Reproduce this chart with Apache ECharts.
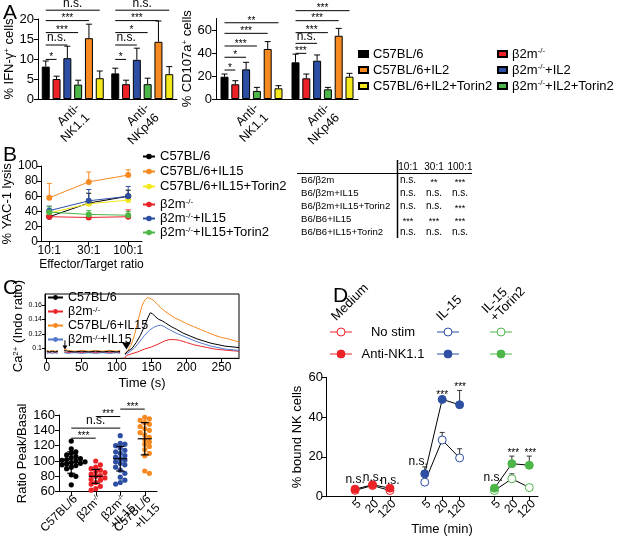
<!DOCTYPE html>
<html>
<head>
<meta charset="utf-8">
<script src="https://cdn.jsdelivr.net/npm/echarts@6/dist/echarts.min.js"></script>
<style>
  html, body { margin: 0; padding: 0; background: #fff; }
  #chart { width: 617px; height: 549px; }
</style>
</head>
<body>
<div id="chart"></div>
<script>
const FONT = '"Liberation Sans", Arial, Helvetica, sans-serif';

// ---------- Panel A: bar charts ----------
const aGroups = ['Anti-\nNK1.1', 'Anti-\nNKp46'];
const aNames = ['C57BL/6', 'β2m^{-/-}', 'β2m^{-/-}+IL2', 'β2m^{-/-}+IL2+Torin2', 'C57BL/6+IL2', 'C57BL/6+IL2+Torin2'];
const aColors = ['#000000', '#ec2227', '#2d4fa3', '#4cb748', '#f6891f', '#f2e81c'];
const ifnMean = [[8.1, 6.4], [5.0, 3.7], [10.2, 9.8], [3.6, 3.7], [15.2, 14.3], [5.2, 6.2]];
const ifnErr  = [[1.4, 1.3], [0.7, 1.0], [3.0, 2.9], [1.1, 1.5], [3.5, 5.2], [1.8, 1.9]];
const cdMean  = [[19.4, 31.9], [12.8, 18.0], [25.8, 33.3], [7.0, 8.4], [43.5, 55.0], [9.3, 19.4]];
const cdErr   = [[2.3, 7.1], [3.1, 3.7], [6.1, 5.0], [3.1, 1.7], [6.4, 6.4], [2.3, 2.9]];
// significance lines: [group, level, fromBar, toBar]
const ifnSig = [[0, 22.2, 0, 5], [0, 19.6, 0, 4], [0, 16.6, 0, 3], [0, 13.5, 0, 2], [0, 9.9, 0, 1],
                [1, 22.2, 0, 5], [1, 19.6, 0, 4], [1, 16.6, 0, 3], [1, 13.5, 0, 2], [1, 9.9, 0, 1]];
const ifnSigText = ['n.s.', '***', '***', 'n.s.', '*', 'n.s.', '***', '*', 'n.s.', '*'];
const cdSig = [[0, 66.3, 0, 5], [0, 57.1, 0, 4], [0, 46.1, 0, 3], [0, 36.3, 0, 2], [0, 25.2, 0, 1],
               [1, 76.8, 0, 5], [1, 68.1, 0, 4], [1, 57.7, 0, 3], [1, 48.4, 0, 2], [1, 39.7, 0, 1]];
const cdSigText = ['**', '***', '***', '*', '*', '***', '***', '***', 'n.s.', '***'];

// ---------- Panel B: lysis ----------
const bRatios = ['10:1', '30:1', '100:1'];
const bNames = ['C57BL/6', 'C57BL/6+IL15', 'C57BL/6+IL15+Torin2', 'β2m^{-/-}', 'β2m^{-/-}+IL15', 'β2m^{-/-}+IL15+Torin2'];
const bColors = ['#000000', '#f6891f', '#f2e81c', '#ec2227', '#2d4fa3', '#4cb748'];
const bLysis = [[33, 51, 60], [58, 79, 88], [38, 50, 55], [33, 32, 33], [41, 54, 60], [39, 36, 35]];
const bErr   = [[2, 13, 8], [19, 13, 7], [2, 3, 3], [2, 5, 9], [6, 15, 13], [7, 5, 5]];
const tableCols = ['10:1', '30:1', '100:1'];
const tableRows = ['B6/β2m', 'B6/β2m+IL15', 'B6/β2m+IL15+Torin2', 'B6/B6+IL15', 'B6/B6+IL15+Torin2'];
const tableSig = [['n.s.', '**', '***'], ['n.s.', 'n.s.', 'n.s.'], ['n.s.', 'n.s.', '***'],
                  ['***', '***', '***'], ['n.s.', 'n.s.', 'n.s.']];

// ---------- Panel C: calcium ----------
const cTraceNames = ['C57BL/6', 'β2m^{-/-}', 'C57BL/6+IL15', 'β2m^{-/-}+IL15'];
const cTraceColors = ['#000000', '#e8262c', '#f6891f', '#5479cc'];
const caBlack = [[0,0.096],[4,0.095],[8,0.096],[12,0.095],[16,0.096],[20,null],[25,0.097],[27,0.099],[30,0.096],[40,0.095],[50,0.096],[60,0.095],[70,0.096],[80,0.095],[90,0.096],[100,0.095],[105,0.096],[108,null],[112,0.092],[116,0.096],[122,0.100],[128,0.108],[134,0.118],[140,0.131],[145,0.143],[148,0.149],[151,0.148],[155,0.144],[160,0.140],[165,0.138],[170,0.135],[178,0.130],[186,0.126],[195,0.121],[205,0.117],[215,0.113],[225,0.110],[235,0.107],[245,0.105],[255,0.103],[265,0.102],[275,0.101]];
const caRed = [[0,0.095],[4,0.094],[8,0.095],[12,0.094],[16,0.095],[20,null],[25,0.095],[30,0.094],[40,0.095],[50,0.094],[60,0.095],[70,0.094],[80,0.095],[90,0.094],[100,0.095],[105,0.094],[108,null],[111,0.086],[114,0.090],[120,0.092],[130,0.095],[140,0.099],[150,0.102],[160,0.106],[168,0.110],[175,0.112],[183,0.112],[190,0.111],[200,0.108],[210,0.105],[220,0.103],[230,0.101],[240,0.099],[250,0.098],[260,0.097],[275,0.096]];
const caOrange = [[0,0.097],[4,0.096],[8,0.097],[12,0.096],[16,0.097],[20,null],[25,0.097],[27,0.100],[30,0.097],[40,0.096],[50,0.097],[60,0.096],[70,0.097],[80,0.096],[90,0.097],[100,0.096],[105,0.097],[108,null],[112,0.093],[116,0.097],[121,0.105],[126,0.120],[131,0.140],[136,0.158],[140,0.166],[144,0.170],[148,0.169],[153,0.166],[158,0.161],[163,0.156],[168,0.152],[175,0.147],[183,0.142],[190,0.139],[200,0.134],[210,0.130],[220,0.126],[230,0.122],[240,0.118],[250,0.115],[260,0.113],[270,0.110],[275,0.109]];
const caBlue = [[0,0.093],[4,0.094],[8,0.093],[12,0.094],[16,0.093],[20,null],[25,0.094],[30,0.093],[40,0.094],[50,0.093],[60,0.094],[70,0.093],[80,0.094],[90,0.093],[100,0.094],[105,0.093],[108,null],[112,0.091],[118,0.095],[125,0.100],[132,0.108],[140,0.118],[147,0.125],[153,0.129],[158,0.131],[163,0.132],[168,0.130],[175,0.126],[185,0.121],[195,0.117],[205,0.113],[215,0.109],[225,0.106],[235,0.103],[245,0.101],[255,0.099],[265,0.098],[275,0.097]];
const caArrows = [[26, 0.0985], [114, 0.0985]];
const cTimeTicks = [0, 50, 100, 150, 200, 250];
const cRatioTicks = [0.1, 0.12, 0.14, 0.16];

const cGroups = ['C57BL/6', 'β2m^{-/-}', 'β2m^{-/-}\n+IL15', 'C57BL/6\n+IL15'];
const cDotColors = ['#000000', '#ec2227', '#2d4fa3', '#f6891f'];
const ratioB6 = [126, 116, 112, 110, 108, 106, 104, 103, 102, 101, 100, 99, 98, 97, 96, 95, 94, 92, 90, 82, 80, 69];
const ratioB2m = [100, 95, 92, 90, 88, 86, 85, 83, 81, 80, 78, 76, 75, 72, 70, 67, 64, 62];
const ratioB2mIL15 = [133, 123, 122, 120, 117, 114, 112, 110, 107, 105, 103, 101, 99, 97, 95, 92, 88, 84, 79, 75, 72, 70];
const ratioB6IL15 = [157, 155, 153, 150, 148, 145, 142, 140, 137, 134, 131, 128, 125, 122, 119, 115, 110, 107, 87, 84];
const ratioMean = [98, 80, 103, 129];
const ratioSd = [14, 9, 16, 21];
const ratioSig = [[0, 1, 129.8], [0, 2, 142.9], [1, 2, 158], [2, 3, 167.7]];
const ratioSigText = ['***', 'n.s.', '***', '***'];

// ---------- Panel D: binding ----------
const dTimes = ['5', '20', '120'];
const dConds = ['Medium', 'IL-15', 'IL-15\n+Torin2'];
const dStim = ['No stim', 'Anti-NK1.1'];
const dColors = ['#ec2227', '#2d4fa3', '#4cb748'];
const dNoStim = [[3.2, 5.6, 3.1], [7.3, 28.5, 19.5], [3.1, 9.0, 4.6]];
const dAnti   = [[3.8, 6.0, 4.3], [11.5, 48.9, 46.2], [4.3, 16.6, 15.8]];
const dNoStimErr = [[0, 0, 0], [0, 3.8, 4.6], [0, 2.5, 0]];
const dAntiErr   = [[0, 0, 0], [3.5, 0, 7.2], [0, 3.8, 4.6]];
// significance labels: [x slot, level]
const dSig = [[0, 8.5], [1, 9.5], [2, 8.1], [3.62, 17.8], [5, 52.2], [6.03, 56], [7.93, 9.4], [9.08, 22.6], [10.06, 22.6]];
const dSigText = ['n.s.', 'n.s.', 'n.s.', 'n.s.', '***', '***', 'n.s.', '***', '***'];

// ---------- helpers ----------
const sup = s => s.replace(/\^\{([^}]*)\}/g, '{s|$1}');
const richSup = fs => ({ s: { fontSize: Math.round(fs * 0.6), fontFamily: FONT, color: '#000', verticalAlign: 'top', lineHeight: Math.round(fs * 0.5) } });

function axis(o) {
  return {
    ...o,
    axisLine: { show: true, onZero: false, lineStyle: { color: '#000', width: 1 }, ...(o.axisLine || {}) },
    axisTick: { show: true, length: 4, lineStyle: { color: '#000', width: 1 }, ...(o.axisTick || {}) },
    axisLabel: { color: '#000', fontFamily: FONT, fontSize: 13, margin: 4, ...(o.axisLabel || {}) },
    splitLine: { show: false },
    nameTextStyle: { color: '#000', fontFamily: FONT, fontSize: 13, ...(o.nameTextStyle || {}) }
  };
}

const BAR_STEP = 10.8;
function barErrRender(params, api) {
  const g = api.value(0), v = api.value(1), e = api.value(2), k = api.value(3);
  const p0 = api.coord([g, v]), p1 = api.coord([g, v + e]);
  const x = p0[0] + (k - 2.5) * BAR_STEP;
  return { type: 'group', children: [
    { type: 'line', shape: { x1: x, y1: p0[1], x2: x, y2: p1[1] }, style: { stroke: '#000', lineWidth: 1 } },
    { type: 'line', shape: { x1: x - 3, y1: p1[1], x2: x + 3, y2: p1[1] }, style: { stroke: '#000', lineWidth: 1 } }
  ] };
}
function sigText(txt, x, y) {
  const star = txt.charAt(0) === '*';
  return { type: 'text', style: { text: txt, x: x, y: star ? y + 3 : y - 1, align: 'center', verticalAlign: 'bottom',
    fontSize: star ? 10 : 12, fontFamily: FONT, fill: '#000' } };
}
function barSigRender(labels) {
  return function (params, api) {
    const g = api.value(0), lv = api.value(1), a = api.value(2), b = api.value(3);
    const p = api.coord([g, lv]);
    const x1 = p[0] + (a - 2.5) * BAR_STEP, x2 = p[0] + (b - 2.5) * BAR_STEP;
    return { type: 'group', children: [
      { type: 'line', shape: { x1: x1, y1: p[1], x2: x2, y2: p[1] }, style: { stroke: '#000', lineWidth: 1 } },
      sigText(labels[params.dataIndex], (x1 + x2) / 2, p[1])
    ] };
  };
}
function barErrData(mean, err) {
  const d = [];
  mean.forEach((row, k) => row.forEach((v, g) => d.push([g, v, err[k][g], k])));
  return d;
}

// simple beeswarm offsets (in dot widths) for the dot plot
const DOT_UNITS = 5.5;
function swarm(values, g) {
  const placed = [];
  return values.map(v => {
    const tries = [0, 1, -1, 2, -2, 3, -3];
    let off = 0;
    for (const t of tries) {
      if (!placed.some(p => p.o === t && Math.abs(p.v - v) < DOT_UNITS)) { off = t; break; }
    }
    placed.push({ v: v, o: off });
    return [g, v, off];
  });
}
const ratioGroups = [ratioB6, ratioB2m, ratioB2mIL15, ratioB6IL15];
const swarmData = [].concat(...ratioGroups.map((vals, g) => swarm(vals, g)));

// ---------- series ----------
const series = [];
aNames.forEach((n, k) => {
  series.push({ type: 'bar', name: 'a' + k, xAxisIndex: 0, yAxisIndex: 0, data: aGroups.map((_, g) => ifnMean[k][g]),
    barWidth: 8, barGap: '35%', itemStyle: { color: aColors[k], borderColor: '#000', borderWidth: 1 }, silent: true });
});
aNames.forEach((n, k) => {
  series.push({ type: 'bar', name: 'a' + k, xAxisIndex: 1, yAxisIndex: 1, data: aGroups.map((_, g) => cdMean[k][g]),
    barWidth: 8, barGap: '35%', itemStyle: { color: aColors[k], borderColor: '#000', borderWidth: 1 }, silent: true });
});
series.push({ type: 'custom', xAxisIndex: 0, yAxisIndex: 0, data: barErrData(ifnMean, ifnErr), renderItem: barErrRender, z: 3, silent: true });
series.push({ type: 'custom', xAxisIndex: 1, yAxisIndex: 1, data: barErrData(cdMean, cdErr), renderItem: barErrRender, z: 3, silent: true });
series.push({ type: 'custom', xAxisIndex: 0, yAxisIndex: 0, data: ifnSig, renderItem: barSigRender(ifnSigText), z: 3, silent: true });
series.push({ type: 'custom', xAxisIndex: 1, yAxisIndex: 1, data: cdSig, renderItem: barSigRender(cdSigText), z: 3, silent: true });

// B
bNames.forEach((n, k) => {
  series.push({ type: 'line', name: 'b' + k, xAxisIndex: 2, yAxisIndex: 2, data: bLysis[k].map((v, i) => [i, v]),
    symbol: 'circle', symbolSize: 6, lineStyle: { width: 1, color: bColors[k] }, itemStyle: { color: bColors[k] }, silent: true });
});
const bErrData = [];
bLysis.forEach((row, k) => row.forEach((v, i) => bErrData.push([i, v, bErr[k][i], k])));
series.push({ type: 'custom', xAxisIndex: 2, yAxisIndex: 2, data: bErrData, z: 1, silent: true,
  renderItem: (params, api) => {
    const i = api.value(0), v = api.value(1), e = api.value(2), k = api.value(3);
    const p0 = api.coord([i, v]), p1 = api.coord([i, v + e]);
    const st = { stroke: bColors[k], lineWidth: 1 };
    return { type: 'group', children: [
      { type: 'line', shape: { x1: p0[0], y1: p0[1], x2: p0[0], y2: p1[1] }, style: st },
      { type: 'line', shape: { x1: p0[0] - 2.5, y1: p1[1], x2: p0[0] + 2.5, y2: p1[1] }, style: st }
    ] };
  } });

// C top traces
[caBlack, caRed, caOrange, caBlue].forEach((d, k) => {
  series.push({ type: 'line', name: 'c' + k, xAxisIndex: 3, yAxisIndex: 3, data: d, symbol: 'none', connectNulls: false,
    lineStyle: { width: 1, color: cTraceColors[k] }, itemStyle: { color: cTraceColors[k] }, z: 2 + (k === 0 ? 2 : 0), silent: true });
});
series.push({ type: 'custom', xAxisIndex: 3, yAxisIndex: 3, data: caArrows, z: 5, silent: true,
  renderItem: (params, api) => {
    const p = api.coord([api.value(0), api.value(1)]);
    if (params.dataIndex === 0) {
      return { type: 'group', children: [
        { type: 'line', shape: { x1: p[0], y1: p[1] - 9, x2: p[0], y2: p[1] - 2 }, style: { stroke: '#000', lineWidth: 1 } },
        { type: 'polygon', shape: { points: [[p[0] - 2.5, p[1] - 4], [p[0] + 2.5, p[1] - 4], [p[0], p[1]]] }, style: { fill: '#000' } }
      ] };
    }
    return { type: 'polygon', shape: { points: [[p[0] - 4.5, p[1] - 7], [p[0] + 4.5, p[1] - 7], [p[0], p[1]]] }, style: { fill: '#000' } };
  } });

// C bottom dots
series.push({ type: 'custom', xAxisIndex: 4, yAxisIndex: 4, data: swarmData, z: 2, silent: true,
  renderItem: (params, api) => {
    const g = api.value(0);
    const p = api.coord([g, api.value(1)]);
    return { type: 'circle', shape: { cx: p[0] + api.value(2) * 4.6, cy: p[1], r: 2.6 }, style: { fill: cDotColors[g] } };
  } });
series.push({ type: 'custom', xAxisIndex: 4, yAxisIndex: 4, data: ratioMean.map((m, g) => [g, m, ratioSd[g]]), z: 3, silent: true,
  renderItem: (params, api) => {
    const g = api.value(0), m = api.value(1), s = api.value(2);
    const pm = api.coord([g, m]), pt = api.coord([g, m + s]), pb = api.coord([g, m - s]);
    const st = { stroke: '#000', lineWidth: 1.2 };
    return { type: 'group', children: [
      { type: 'line', shape: { x1: pm[0], y1: pt[1], x2: pm[0], y2: pb[1] }, style: st },
      { type: 'line', shape: { x1: pm[0] - 7, y1: pm[1], x2: pm[0] + 7, y2: pm[1] }, style: st },
      { type: 'line', shape: { x1: pm[0] - 4, y1: pt[1], x2: pm[0] + 4, y2: pt[1] }, style: st },
      { type: 'line', shape: { x1: pm[0] - 4, y1: pb[1], x2: pm[0] + 4, y2: pb[1] }, style: st }
    ] };
  } });
series.push({ type: 'custom', xAxisIndex: 4, yAxisIndex: 4, data: ratioSig, z: 3, silent: true,
  renderItem: (params, api) => {
    const p1 = api.coord([api.value(0), api.value(2)]), p2 = api.coord([api.value(1), api.value(2)]);
    return { type: 'group', children: [
      { type: 'line', shape: { x1: p1[0], y1: p1[1], x2: p2[0], y2: p2[1] }, style: { stroke: '#000', lineWidth: 1 } },
      sigText(ratioSigText[params.dataIndex], (p1[0] + p2[0]) / 2, p1[1])
    ] };
  } });

// D
dConds.forEach((c, ci) => {
  series.push({ type: 'line', name: 'dn' + ci, xAxisIndex: 5, yAxisIndex: 5, data: dNoStim[ci].map((v, t) => [ci * 4 + t, v]),
    symbol: 'circle', symbolSize: 8, lineStyle: { color: '#000', width: 1 },
    itemStyle: { color: '#fff', borderColor: dColors[ci], borderWidth: 1 }, z: 2, silent: true });
});
dConds.forEach((c, ci) => {
  series.push({ type: 'line', name: 'da' + ci, xAxisIndex: 5, yAxisIndex: 5, data: dAnti[ci].map((v, t) => [ci * 4 + t, v]),
    symbol: 'circle', symbolSize: 8, lineStyle: { color: '#000', width: 1 },
    itemStyle: { color: dColors[ci], borderColor: dColors[ci], borderWidth: 1 }, z: 3, silent: true });
});
const dErrData = [];
[dNoStim, dAnti].forEach((set, si) => {
  const errs = si === 0 ? dNoStimErr : dAntiErr;
  set.forEach((row, ci) => row.forEach((v, t) => { if (errs[ci][t] > 0) dErrData.push([ci * 4 + t, v, errs[ci][t]]); }));
});
series.push({ type: 'custom', xAxisIndex: 5, yAxisIndex: 5, data: dErrData, z: 1, silent: true,
  renderItem: (params, api) => {
    const x = api.value(0), v = api.value(1), e = api.value(2);
    const p0 = api.coord([x, v]), p1 = api.coord([x, v + e]);
    const st = { stroke: '#333', lineWidth: 1 };
    return { type: 'group', children: [
      { type: 'line', shape: { x1: p0[0], y1: p0[1], x2: p0[0], y2: p1[1] }, style: st },
      { type: 'line', shape: { x1: p0[0] - 2.5, y1: p1[1], x2: p0[0] + 2.5, y2: p1[1] }, style: st }
    ] };
  } });
series.push({ type: 'custom', xAxisIndex: 5, yAxisIndex: 5, data: dSig, z: 4, silent: true,
  renderItem: (params, api) => {
    const p = api.coord([api.value(0), api.value(1)]);
    const txt = dSigText[params.dataIndex];
    const star = txt.charAt(0) === '*';
    return { type: 'text', style: { text: txt, x: p[0], y: p[1] + (star ? 2 : 0), align: 'center', verticalAlign: 'middle',
      fontSize: star ? 10 : 12, fontFamily: FONT, fill: '#000' } };
  } });

// ---------- graphic (letters, table, D header) ----------
const graphic = [];
[['A', 3, 3], ['B', 3, 145], ['C', 3, 278], ['D', 333, 286]].forEach(([t, x, y]) => {
  graphic.push({ type: 'text', left: x, top: y, style: { text: t, fontSize: 21, fontFamily: FONT, fill: '#000' } });
});
// table
const TBL = { x0: 301, colX: [408, 434, 460], y0: 167, dy: 13 };
tableCols.forEach((c, i) => graphic.push({ type: 'text', x: TBL.colX[i], y: TBL.y0,
  style: { text: c, align: 'center', verticalAlign: 'middle', fontSize: 10, fontFamily: FONT, fill: '#000' } }));
tableRows.forEach((r, j) => {
  const y = TBL.y0 + 13.5 + j * TBL.dy;
  graphic.push({ type: 'text', x: TBL.x0, y: y,
    style: { text: r, align: 'left', verticalAlign: 'middle', fontSize: 9.6, fontFamily: FONT, fill: '#000' } });
  tableSig[j].forEach((s, i) => graphic.push({ type: 'text', x: TBL.colX[i], y: s.charAt(0) === '*' ? y + 2 : y,
    style: { text: s, align: 'center', verticalAlign: 'middle', fontSize: s.charAt(0) === '*' ? 9 : 10, fontFamily: FONT, fill: '#000' } }));
});
graphic.push({ type: 'line', shape: { x1: 297, y1: 173.5, x2: 472, y2: 173.5 }, style: { stroke: '#000', lineWidth: 1 } });
graphic.push({ type: 'line', shape: { x1: 397.5, y1: 160, x2: 397.5, y2: 238 }, style: { stroke: '#000', lineWidth: 1.5 } });

// D header
const dHeadX = [341, 448, 501];
const dHeadAnchor = [[338, 323], [443, 323], [497, 324]];
dConds.forEach((c, ci) => {
  graphic.push({ type: 'text', x: dHeadAnchor[ci][0], y: dHeadAnchor[ci][1], rotation: Math.PI / 4,
    style: { text: c, align: 'left', verticalAlign: 'bottom', fontSize: 13, lineHeight: 12, fontFamily: FONT, fill: '#000' } });
  [332, 354].forEach((y, si) => {
    graphic.push({ type: 'line', shape: { x1: dHeadX[ci] - 11, y1: y, x2: dHeadX[ci] + 11, y2: y }, style: { stroke: dColors[ci], lineWidth: 1 } });
    graphic.push({ type: 'circle', shape: { cx: dHeadX[ci], cy: y, r: 4 },
      style: { fill: si === 0 ? '#fff' : dColors[ci], stroke: dColors[ci], lineWidth: 1 } });
  });
});
dStim.forEach((s, si) => graphic.push({ type: 'text', x: 393, y: si === 0 ? 332 : 354,
  style: { text: s, align: 'center', verticalAlign: 'middle', fontSize: 13, fontFamily: FONT, fill: '#000' } }));

// ---------- legends ----------
const legendText = {};
aNames.forEach((n, k) => legendText['a' + k] = sup(n));
bNames.forEach((n, k) => legendText['b' + k] = sup(n));
cTraceNames.forEach((n, k) => legendText['c' + k] = sup(n));
function legend(o, fs, lh) {
  return { selectedMode: false, orient: 'vertical', formatter: n => legendText[n], padding: 0,
    textStyle: { fontSize: fs, fontFamily: FONT, color: '#000', lineHeight: lh, rich: richSup(fs) }, ...o };
}

const option = {
  animation: false,
  backgroundColor: '#fff',
  textStyle: { fontFamily: FONT, color: '#000' },
  grid: [
    { left: 38, top: 19, width: 139, height: 80 },
    { left: 216, top: 18.5, width: 142, height: 80.5 },
    { left: 41, top: 166, width: 101, height: 75.7 },
    { left: 45, top: 294, width: 194, height: 64.3, show: true, borderColor: '#000', borderWidth: 1 },
    { left: 59, top: 415, width: 98, height: 76.7 },
    { left: 326, top: 377.3, width: 212, height: 119.4 }
  ],
  xAxis: [
    axis({ gridIndex: 0, type: 'category', data: aGroups, axisTick: { show: false },
      axisLabel: { rotate: 45, interval: 0, fontSize: 12.5, lineHeight: 14, margin: 2, align: 'right', verticalAlign: 'top' } }),
    axis({ gridIndex: 1, type: 'category', data: aGroups, axisTick: { show: false },
      axisLabel: { rotate: 45, interval: 0, fontSize: 12.5, lineHeight: 14, margin: 2, align: 'right', verticalAlign: 'top' } }),
    axis({ gridIndex: 2, type: 'value', min: -0.21, max: 2.35, name: 'Effector/Target ratio', nameLocation: 'middle', nameGap: 17,
      nameTextStyle: { fontSize: 12 },
      axisTick: { customValues: [0, 1, 2] },
      axisLabel: { customValues: [0, 1, 2], formatter: v => bRatios[Math.round(v)], fontSize: 12, margin: 3 } }),
    axis({ gridIndex: 3, type: 'value', min: -2.5, max: 275, name: 'Time (s)', nameLocation: 'middle', nameGap: 19,
      axisTick: { customValues: cTimeTicks }, axisLabel: { customValues: cTimeTicks, fontSize: 12, margin: 3 } }),
    axis({ gridIndex: 4, type: 'category', data: cGroups, axisTick: { alignWithLabel: true },
      axisLabel: { rotate: 45, interval: 0, fontSize: 12, lineHeight: 12.5, margin: 1, align: 'right', verticalAlign: 'top',
        formatter: v => sup(v), rich: richSup(12) } }),
    axis({ gridIndex: 5, type: 'value', min: -1.67, max: 10.5, name: 'Time (min)', nameLocation: 'middle', nameGap: 25,
      nameTextStyle: { padding: [0, 0, 0, 20] },
      axisTick: { customValues: [0, 1, 2, 4, 5, 6, 8, 9, 10] },
      axisLabel: { customValues: [0, 1, 2, 4, 5, 6, 8, 9, 10], formatter: v => dTimes[Math.round(v) % 4], rotate: 45,
        fontSize: 12, margin: 1, align: 'right', verticalAlign: 'top' } })
  ],
  yAxis: [
    axis({ gridIndex: 0, type: 'value', min: 0, max: 20, interval: 5, name: sup('% IFN-γ^{+} cells'), nameLocation: 'middle', nameGap: 22,
      nameTextStyle: { rich: richSup(13) } }),
    axis({ gridIndex: 1, type: 'value', min: 0, max: 70, name: sup('% CD107a^{+} cells'), nameLocation: 'middle', nameGap: 20,
      nameTextStyle: { rich: richSup(13) },
      axisTick: { customValues: [0, 20, 40, 60] }, axisLabel: { customValues: [0, 20, 40, 60] } }),
    axis({ gridIndex: 2, type: 'value', min: 0, max: 100, interval: 20, name: '% YAC-1 lysis', nameLocation: 'middle', nameGap: 25,
      axisLabel: { fontSize: 12, margin: 3 } }),
    axis({ gridIndex: 3, type: 'value', min: 0.0862, max: 0.175, name: sup('Ca^{2+} (Indo ratio)'), nameLocation: 'middle', nameGap: 20,
      nameTextStyle: { rich: richSup(13) },
      axisTick: { customValues: cRatioTicks, length: 3 },
      axisLabel: { customValues: cRatioTicks, fontSize: 7, margin: 3, formatter: v => String(+v.toFixed(2)) } }),
    axis({ gridIndex: 4, type: 'value', min: 60, max: 160, interval: 20, name: 'Ratio Peak/Basal', nameLocation: 'middle', nameGap: 30 }),
    axis({ gridIndex: 5, type: 'value', min: 0, max: 60, interval: 20, name: '% bound NK cells', nameLocation: 'middle', nameGap: 22,
      axisLabel: { margin: 3 } })
  ],
  legend: [
    legend({ data: ['a0', 'a4', 'a5'], left: 358, top: 47, icon: 'rect', itemWidth: 9, itemHeight: 6, itemGap: 2 }, 13, 14),
    legend({ data: ['a1', 'a2', 'a3'], left: 497, top: 47, icon: 'rect', itemWidth: 9, itemHeight: 6, itemGap: 2 }, 13, 14),
    legend({ data: ['b0', 'b1', 'b2'], left: 142, top: 150, itemWidth: 12, itemHeight: 7, itemGap: 2 }, 13, 13),
    legend({ data: ['b3', 'b4', 'b5'], left: 142, top: 198, itemWidth: 12, itemHeight: 7, itemGap: 1 }, 13, 13),
    legend({ data: ['c0', 'c1', 'c2', 'c3'], left: 47, top: 291, itemWidth: 15, itemHeight: 6, itemGap: 1 }, 12.5, 11)
  ],
  series: series,
  graphic: graphic
};

const chart = echarts.init(document.getElementById('chart'), null, { renderer: 'canvas' });
chart.setOption(option);
</script>
</body>
</html>
